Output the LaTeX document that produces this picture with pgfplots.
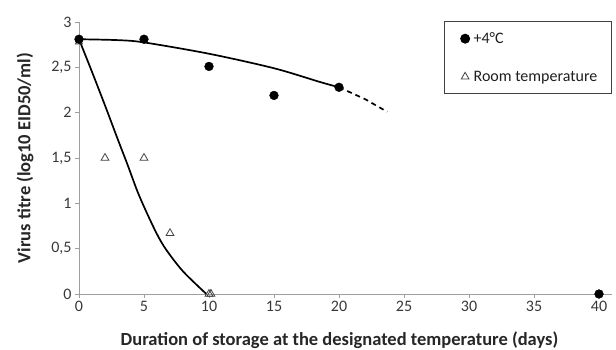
\documentclass[border=0pt]{standalone}
\usepackage{pgfplots}
\pgfplotsset{compat=1.18}
\usepackage{fontspec}
\setmainfont{Carlito}
\pgfplotsset{legend image code/.code={\path[draw=none,fill=none] (-9pt,0pt) rectangle (6.5pt,0pt); \draw[#1] plot coordinates {(0pt,0pt)};}}
\begin{document}
\begin{tikzpicture}[x=1pt,y=1pt]
\useasboundingbox (-79,-55) rectangle (537,294);
\begin{axis}[
 at={(0,0)}, anchor=south west,
 width=533pt, height=272pt, scale only axis,
 xmin=0, xmax=41, ymin=0, ymax=3,
 axis x line*=bottom, axis y line*=left,
 axis line style={draw=gray!75, line width=0.9pt, -},
 xtick={0,5,10,15,20,25,30,35,40},
 ytick={0,0.5,1,1.5,2,2.5,3},
 tick style={draw=gray!75, line width=0.9pt},
 tick align=outside, major tick length=4pt,
 ticklabel style={font=\fontsize{16}{19}\selectfont, text=black!78},
 /pgf/number format/use comma,
 /pgf/number format/assume math mode=true,
 xlabel={Duration of storage at the designated temperature (days)},
 ylabel={Virus titre (log10 EID50/ml)},
 label style={font=\fontsize{18.5}{22}\selectfont\bfseries, text=black!85},
 xlabel style={at={(rel axis cs:0.5,0)}, anchor=base, yshift=-51pt, xshift=-6pt},
 ylabel style={at={(rel axis cs:0,0.5)}, anchor=center, yshift=54pt},
 clip=false,
 legend style={at={(1,1.004)}, anchor=north east, draw=gray!50!black, line width=1.1pt,
   font=\fontsize{16}{19}\selectfont, row sep=22pt, inner xsep=12pt, inner ysep=9pt,
   cells={anchor=west}, text=black!88},
 legend cell align=left,
]
% fitted curves
\addplot[black, line width=1.7pt, smooth, forget plot] coordinates {
 (0,2.81) (3,2.80) (5,2.775) (10,2.65) (15,2.49) (18.5,2.34) (20,2.28)};
\addplot[black, line width=1.7pt, dash pattern=on 5pt off 4pt, forget plot] coordinates {
 (20,2.28) (22,2.15) (23.7,2.01)};
\addplot[black, line width=1.7pt, smooth, forget plot] coordinates {
 (0,2.81) (1,2.45) (2,2.08) (3,1.70) (3.75,1.42) (4.5,1.13) (5.2,0.90) (6,0.66) (6.7,0.49) (8,0.25) (9.8,0)};
\addplot[only marks, mark=triangle, mark size=4pt, mark options={draw=black!75, line width=0.8pt, fill=white}, forget plot] coordinates {
 (0,2.78)};
% data
\addplot[only marks, mark=*, mark size=4.4pt, mark options={fill=black, draw=black}] coordinates {
 (0,2.81) (5,2.81) (10,2.51) (15,2.19) (20,2.28) (40,0)};
\addlegendentry{+4°C}
\addplot[only marks, mark=triangle, mark size=4.5pt, mark options={draw=black!75, line width=0.8pt, fill=white}] coordinates {
 (2,1.5) (5,1.5) (7,0.67) (10,0) (10.15,0)};
\addlegendentry{Room temperature}
\end{axis}
\end{tikzpicture}
\end{document}
